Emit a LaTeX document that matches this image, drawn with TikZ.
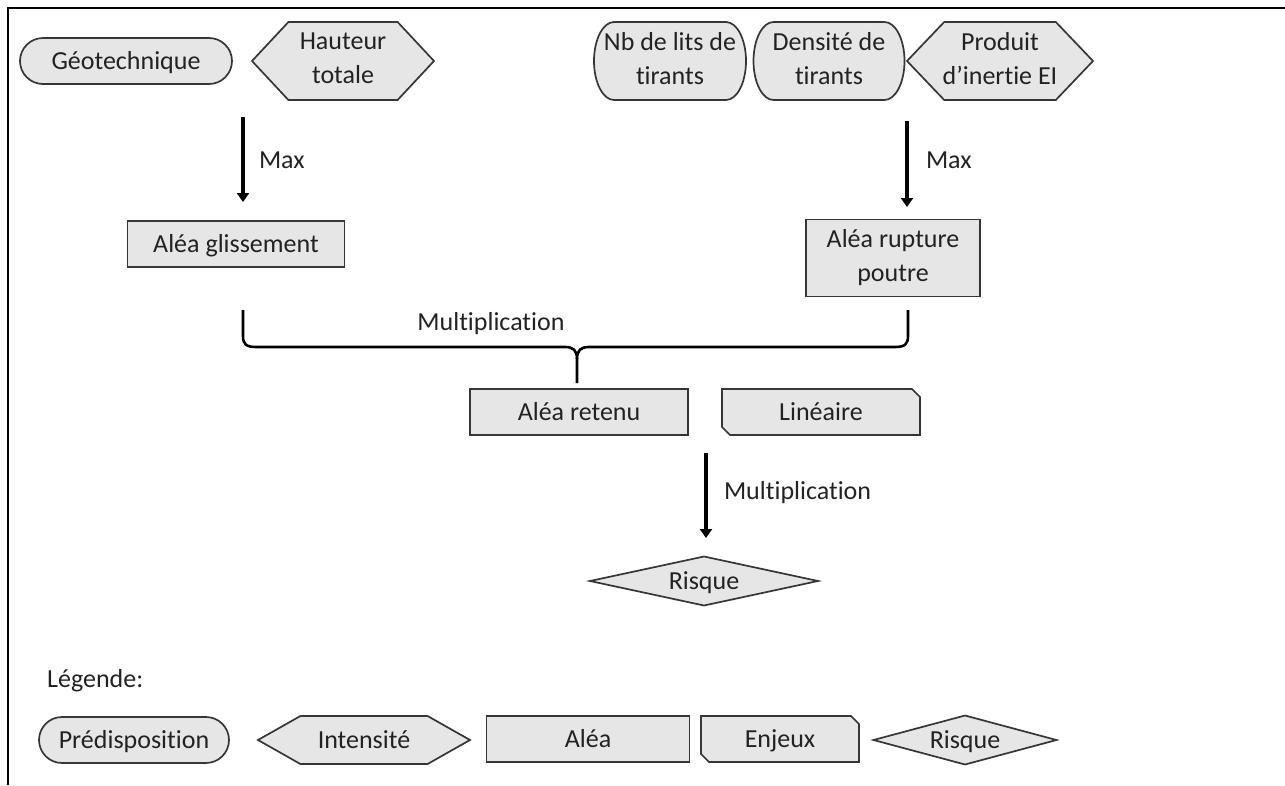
\documentclass[tikz,border=0pt]{standalone}
\usepackage{fontspec}
\setmainfont{Carlito}[Ligatures={NoCommon,NoRequired,NoContextual,NoRare},Contextuals=NoAlternate]
\usetikzlibrary{arrows.meta}
\definecolor{fillc}{HTML}{E6E6E6}
\definecolor{linec}{HTML}{363636}
\definecolor{textc}{HTML}{222222}
\newcommand\lblstrut{\rule[-6pt]{0pt}{29pt}}
\tikzset{
  shp/.style={draw=linec, fill=fillc, line width=1.7pt, line join=miter},
  lbl/.style={text=textc, font=\fontsize{26}{34}\selectfont, inner sep=0pt, align=center,
     execute at begin node=\lblstrut, execute at end node=\lblstrut},
  arr/.style={line width=4pt, draw=black, -{Triangle[width=12pt,length=9pt]}},
  bracestyle/.style={line width=2.6pt, draw=black, line join=round},
  framestyle/.style={line width=2pt, draw=black},
}
\newcommand\rectnode[6]{%
  \node[shp, lbl, rectangle, minimum width=#4pt, minimum height=#5pt] (#1) at (#2,#3) {#6};}
\newcommand\stadnode[7]{%
  \pgfmathsetmacro\ryv{#5/2}%
  \path[shp] (#2-#4/2+#7,#3-#5/2) -- (#2+#4/2-#7,#3-#5/2)
     arc[start angle=90,end angle=-90,x radius=#7pt,y radius=\ryv pt]
     -- (#2-#4/2+#7,#3+#5/2)
     arc[start angle=270,end angle=90,x radius=#7pt,y radius=\ryv pt] -- cycle;
  \node[lbl, minimum width=#4pt, minimum height=#5pt] (#1) at (#2,#3) {#6};}
\newcommand\prepnode[6]{%
  \path[shp] (#2-#4/2,#3) -- (#2-#4/2+#4/5,#3-#5/2) -- (#2+#4/2-#4/5,#3-#5/2) -- (#2+#4/2,#3)
     -- (#2+#4/2-#4/5,#3+#5/2) -- (#2-#4/2+#4/5,#3+#5/2) -- cycle;
  \node[lbl, minimum width=#4pt, minimum height=#5pt] (#1) at (#2,#3) {#6};}
\newcommand\snipnode[6]{%
  \path[shp] (#2-#4/2,#3-#5/2) -- (#2+#4/2-8,#3-#5/2) -- (#2+#4/2,#3-#5/2+8) -- (#2+#4/2,#3+#5/2)
     -- (#2-#4/2+8,#3+#5/2) -- (#2-#4/2,#3+#5/2-8) -- cycle;
  \node[lbl, minimum width=#4pt, minimum height=#5pt] (#1) at (#2,#3) {#6};}
\newcommand\diamnode[6]{%
  \path[shp] (#2-#4/2,#3) -- (#2,#3-#5/2) -- (#2+#4/2,#3) -- (#2,#3+#5/2) -- cycle;
  \node[lbl, minimum width=#4pt, minimum height=#5pt] (#1) at (#2,#3) {#6};}
\begin{document}
\begin{tikzpicture}[x=1pt,y=-1pt]
\useasboundingbox (0,0) rectangle (1285,785);
% frame (top and left only)
\coordinate (fbl) at (8,785);
\coordinate (ftl) at (8,8);
\coordinate (ftr) at (1285,8);
\draw[framestyle] (fbl) -- (ftl) -- (ftr);

% top row
\stadnode{geo}{126}{61}{212}{46}{Géotechnique}{23}
\prepnode{haut}{343}{61}{182}{78}{Hauteur\\totale}
\stadnode{nblits}{670}{61}{152}{78}{Nb de lits de\\tirants}{20}
\stadnode{dens}{829}{61}{151}{78}{Densité de\\tirants}{20}
\prepnode{prod}{1000}{61}{186}{78}{Produit\\d’inertie EI}

% second row
\rectnode{glis}{236}{244}{217}{46}{Aléa glissement}
\rectnode{rupt}{893}{258}{174}{77}{Aléa rupture\\poutre}

% arrows Max
\coordinate (a1s) at (243,117);
\coordinate (a1e) at (243,202);
\draw[arr] (a1s) -- node[lbl, anchor=west, pos=0.5, xshift=14pt] (max1) {Max} (a1e);
\coordinate (a2s) at (907,121);
\coordinate (a2e) at (907,207);
\draw[arr] (a2s) -- node[lbl, anchor=west, pos=0.45, xshift=17pt] (max2) {Max} (a2e);

% brace
\coordinate (bl) at (243,310);
\coordinate (br) at (908,310);
\coordinate (bt) at (577,383);
\draw[bracestyle] (bl) -- (243,336) .. controls (243,344) and (246,347) .. (256,347)
   -- (565,347) .. controls (573,347) and (577,350) .. (577,359) -- (bt);
\draw[bracestyle] (br) -- (908,336) .. controls (908,344) and (905,347) .. (895,347)
   -- (589,347) .. controls (581,347) and (577,350) .. (577,359);
\node[lbl] (mult1) at (491,322) {Multiplication};

% third row
\rectnode{retenu}{579}{412}{218}{46}{Aléa retenu}
\snipnode{lin}{821}{412}{198}{46}{Linéaire}

% arrow multiplication
\coordinate (a3s) at (706,453);
\coordinate (a3e) at (706,538);
\draw[arr] (a3s) -- node[lbl, anchor=west, pos=0.45, xshift=16pt] (mult2) {Multiplication} (a3e);

\diamnode{risque}{704}{581}{228}{49}{Risque}

% legend
\node[lbl, anchor=west] (leg) at (47,679) {Légende:};
\stadnode{lpred}{134}{740}{190}{46}{Prédisposition}{23}
\prepnode{lint}{364}{740}{212}{48}{Intensité}
\rectnode{lalea}{588}{739}{203}{46}{Aléa}
\snipnode{lenj}{780}{739}{158}{46}{Enjeux}
\diamnode{lrisk}{965}{740}{183}{49}{Risque}
\end{tikzpicture}
\end{document}
